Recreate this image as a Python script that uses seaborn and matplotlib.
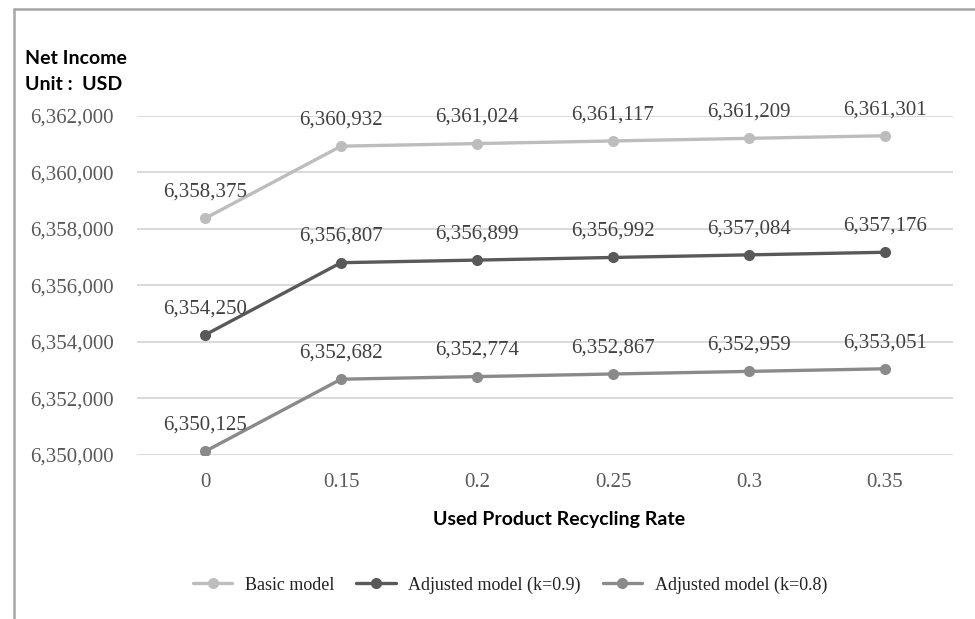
import matplotlib
matplotlib.use("Agg")
import matplotlib.pyplot as plt
from matplotlib.lines import Line2D
import pandas as pd
import seaborn as sns

rates = ["0", "0.15", "0.2", "0.25", "0.3", "0.35"]
basic_model = [6358375, 6360932, 6361024, 6361117, 6361209, 6361301]
adjusted_k09 = [6354250, 6356807, 6356899, 6356992, 6357084, 6357176]
adjusted_k08 = [6350125, 6352682, 6352774, 6352867, 6352959, 6353051]
series_names = ["Basic model", "Adjusted model (k=0.9)", "Adjusted model (k=0.8)"]
series_colors = ["#bdbdbd", "#595959", "#8a8a8a"]
y_ticks = [6350000, 6352000, 6354000, 6356000, 6358000, 6360000, 6362000]

rows = []
for name, vals in zip(series_names, [basic_model, adjusted_k09, adjusted_k08]):
    for r, v in zip(rates, vals):
        rows.append({"rate": r, "income": v, "model": name})
df = pd.DataFrame(rows)

sns.set_theme(style="white")
plt.rcParams["font.family"] = ["Liberation Serif", "DejaVu Serif"]

fig = plt.figure(figsize=(9.75, 6.19), dpi=100)
ax = fig.add_axes([0.1405, 0.265, 0.837, 0.5476])

palette = dict(zip(series_names, series_colors))
sns.lineplot(data=df, x="rate", y="income", hue="model", hue_order=series_names,
             palette=palette, marker="o", markersize=8, markeredgewidth=0,
             linewidth=2.4, ax=ax, legend=False, sort=False)

ax.set_xlim(-0.5, len(rates) - 0.5)
ax.set_ylim(y_ticks[0], y_ticks[-1])
ax.set_yticks(y_ticks)
ax.set_yticklabels([f"{t:,}" for t in y_ticks])
ax.set_xticks(range(len(rates)))
ax.set_xticklabels(rates)
ax.tick_params(axis="both", labelsize=15, colors="#595959", length=0)
ax.tick_params(axis="y", pad=17)
ax.tick_params(axis="x", pad=13)
ax.yaxis.grid(True, color="#d9d9d9", linewidth=1.4)
ax.xaxis.grid(False)
for s in ax.spines.values():
    s.set_visible(False)
ax.set_xlabel("")
ax.set_ylabel("")

# value labels above each point
for name, vals in zip(series_names, [basic_model, adjusted_k09, adjusted_k08]):
    for i, v in enumerate(vals):
        ax.annotate(f"{v:,}", (i, v), xytext=(0, 12), textcoords="offset points",
                    ha="center", va="bottom", fontsize=15, color="#404040")

sans = ["Lato", "DejaVu Sans"]
fig.text(25 / 975, 1 - 59 / 619, "Net Income", fontsize=14, fontweight="bold",
         family=sans, color="black", va="center", ha="left")
fig.text(25 / 975, 1 - 85 / 619, "Unit :  USD", fontsize=14, fontweight="bold",
         family=sans, color="black", va="center", ha="left")
fig.text(559 / 975, 1 - 520 / 619, "Used Product Recycling Rate", fontsize=14,
         fontweight="bold", family=sans, color="black", va="center", ha="center")

handles = [Line2D([0], [0], color=c, linewidth=2.4, marker="o", markersize=8,
                  markeredgewidth=0) for c in series_colors]
fig.legend(handles, series_names, loc="center", bbox_to_anchor=(510 / 975, 1 - 585 / 619),
           ncol=3, frameon=False, fontsize=13, handlelength=2.2, columnspacing=1.2,
           handletextpad=0.7, labelcolor="#222222")

# outer frame on the left and top edges
fig.add_artist(Line2D([14 / 975, 14 / 975], [0, 1 - 9 / 619], color="#a6a6a6",
                      linewidth=1.8, transform=fig.transFigure))
fig.add_artist(Line2D([14 / 975, 1], [1 - 9 / 619, 1 - 9 / 619], color="#a6a6a6",
                      linewidth=1.8, transform=fig.transFigure))

fig.savefig("out.png", dpi=100, facecolor="white")
